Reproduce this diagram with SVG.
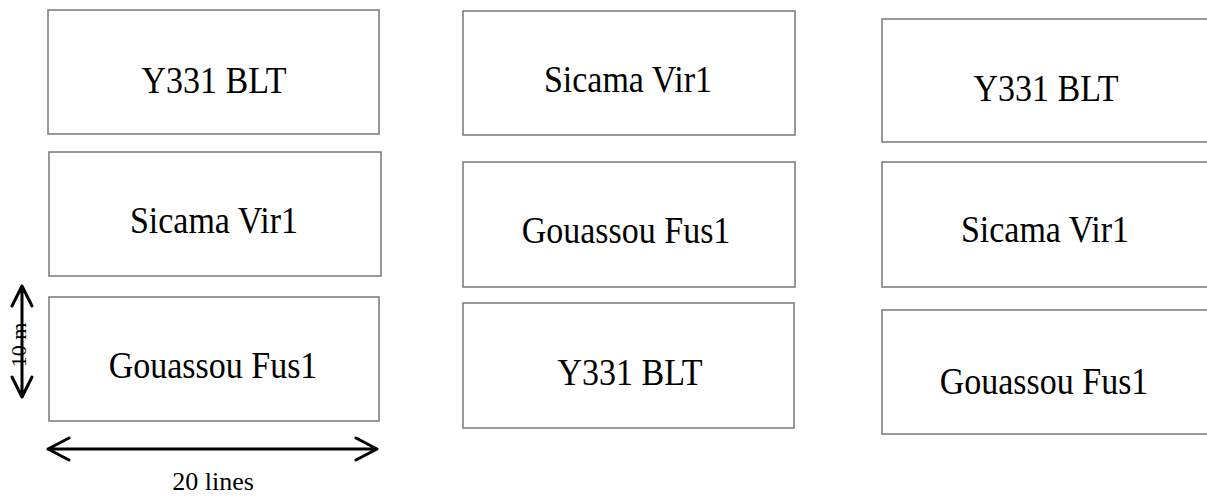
<svg xmlns="http://www.w3.org/2000/svg" width="1207" height="499" viewBox="0 0 1207 499">
<style>
.box{fill:#fff;stroke:#777;stroke-width:1.5}
.lbl{font-family:"Liberation Serif",serif;font-size:34px;fill:#000;text-anchor:middle}
.dim{font-family:"Liberation Serif",serif;fill:#000;text-anchor:middle}
.arr{fill:none;stroke:#000;stroke-width:3;stroke-linecap:round;stroke-linejoin:round}
</style>
<rect width="1207" height="499" fill="#fff"/>
<g id="c1r1"><rect class="box" x="48" y="10" width="331" height="124"/><text class="lbl" transform="translate(214,93) scale(1,1.1)">Y331 BLT</text></g>
<g id="c1r2"><rect class="box" x="49" y="152" width="332" height="124"/><text class="lbl" transform="translate(214,233) scale(1,1.1)">Sicama Vir1</text></g>
<g id="c1r3"><rect class="box" x="49" y="297" width="330" height="124"/><text class="lbl" transform="translate(213,378) scale(1,1.1)">Gouassou Fus1</text></g>
<g id="c2r1"><rect class="box" x="463" y="11" width="332" height="124"/><text class="lbl" transform="translate(628,92) scale(1,1.1)">Sicama Vir1</text></g>
<g id="c2r2"><rect class="box" x="463" y="162" width="332" height="125"/><text class="lbl" transform="translate(626,243) scale(1,1.1)">Gouassou Fus1</text></g>
<g id="c2r3"><rect class="box" x="463" y="303" width="331" height="125"/><text class="lbl" transform="translate(630,385) scale(1,1.1)">Y331 BLT</text></g>
<g id="c3r1"><rect class="box" x="882" y="19" width="330" height="123"/><text class="lbl" transform="translate(1046,101) scale(1,1.1)">Y331 BLT</text></g>
<g id="c3r2"><rect class="box" x="882" y="162" width="330" height="125"/><text class="lbl" transform="translate(1045,242) scale(1,1.1)">Sicama Vir1</text></g>
<g id="c3r3"><rect class="box" x="882" y="310" width="330" height="124"/><text class="lbl" transform="translate(1044,394) scale(1,1.1)">Gouassou Fus1</text></g>
<g id="connectors">
<path class="arr" d="M22 286 V397 M12 306 L22 286 L32 306 M12 377 L22 397 L32 377"/>
<path class="arr" d="M48 449 H377 M69 438 L48 449 L69 460 M356 438 L377 449 L356 460"/>
</g>
<text class="dim" font-size="22" transform="translate(26,345) rotate(-90)">10 m</text>
<text class="dim" font-size="26" x="213" y="490">20 lines</text>
</svg>
